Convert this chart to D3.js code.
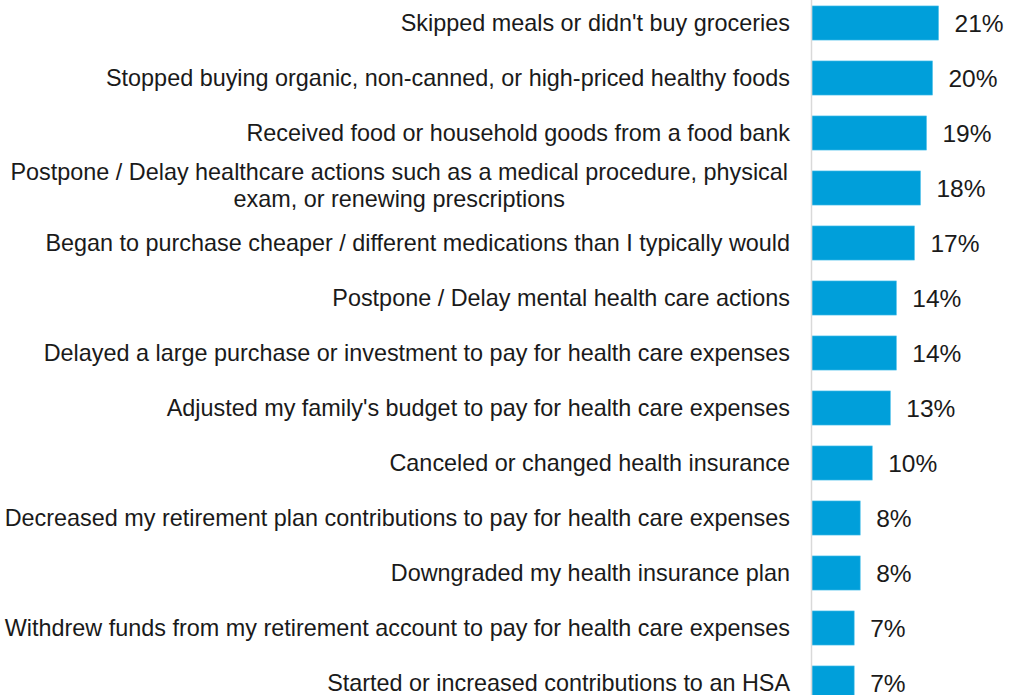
<!DOCTYPE html>
<html>
<head>
<meta charset="utf-8">
<script src="https://cdn.jsdelivr.net/npm/d3@7"></script>
<style>
  body { margin: 0; background: #fff; }
  svg { display: block; font-family: "Liberation Sans", Arial, sans-serif; }
</style>
</head>
<body>
<svg></svg>
<script>
const actions = [
  "Skipped meals or didn't buy groceries",
  "Stopped buying organic, non-canned, or high-priced healthy foods",
  "Received food or household goods from a food bank",
  "Postpone / Delay healthcare actions such as a medical procedure, physical|exam, or renewing prescriptions",
  "Began to purchase cheaper / different medications than I typically would",
  "Postpone / Delay mental health care actions",
  "Delayed a large purchase or investment to pay for health care expenses",
  "Adjusted my family's budget to pay for health care expenses",
  "Canceled or changed health insurance",
  "Decreased my retirement plan contributions to pay for health care expenses",
  "Downgraded my health insurance plan",
  "Withdrew funds from my retirement account to pay for health care expenses",
  "Started or increased contributions to an HSA"
]
const shares = [21, 20, 19, 18, 17, 14, 14, 13, 10, 8, 8, 7, 7]

const width = 1009
const height = 695
const pd = { left: 812, top: -4.5 }

const svg = d3.select('svg')
  .attr('width', width)
  .attr('height', height)

const x = d3.scaleLinear()
  .domain([0, 21])
  .range([0, 126.5])

// bands run past the bottom edge, the last bar is cut like in the source
const y = d3.scaleBand()
  .domain(actions)
  .range([0, 55 * actions.length])
  .paddingInner(0.38)
  .paddingOuter(0.19)

const g = svg.append('g')
  .attr('transform', `translate(${pd.left}, ${pd.top})`)

g.selectAll('rect')
  .data(actions)
  .enter()
  .append('rect')
  .attr('x', 0)
  .attr('y', d => y(d))
  .attr('width', (d, i) => x(shares[i]))
  .attr('height', y.bandwidth())
  .attr('fill', '#009fda')
  .attr('stroke', '#4cc0ea')
  .attr('stroke-width', 0.6)

g.selectAll('text.val')
  .data(actions)
  .enter()
  .append('text')
  .attr('class', 'val')
  .attr('x', (d, i) => x(shares[i]) + 16)
  .attr('y', d => y(d) + y.bandwidth() / 2)
  .attr('dy', '0.36em')
  .attr('font-size', 24.5)
  .attr('fill', '#1a1a1a')
  .text((d, i) => shares[i] + '%')

// category labels, wrapped ones are centred on each other
const lab = svg.append('g')
  .attr('transform', `translate(0, ${pd.top})`)
  .selectAll('text')
  .data(actions)
  .enter()
  .append('text')
  .attr('font-size', 23.4)
  .attr('fill', '#1a1a1a')

lab.each(function(d) {
  const t = d3.select(this)
  const lines = d.split('|')
  const cy = y(d) + y.bandwidth() / 2
  if (lines.length === 1) {
    t.attr('x', pd.left - 22).attr('y', cy).attr('dy', '0.34em')
      .attr('text-anchor', 'end').text(d)
    return
  }
  t.attr('text-anchor', 'middle')
  const spans = lines.map((l, i) => t.append('tspan')
    .attr('x', 0)
    .attr('y', cy - 2.5 + (i - (lines.length - 1) / 2) * 26.5)
    .attr('dy', '0.34em')
    .text(l))
  const w = d3.max(spans, s => s.node().getComputedTextLength())
  spans.forEach(s => s.attr('x', pd.left - 24 - w / 2))
})

svg.append('line')
  .attr('x1', pd.left - 0.5)
  .attr('x2', pd.left - 0.5)
  .attr('y1', 0)
  .attr('y2', height)
  .attr('stroke', '#d9d9d9')
  .attr('stroke-width', 1.5)
</script>
</body>
</html>
